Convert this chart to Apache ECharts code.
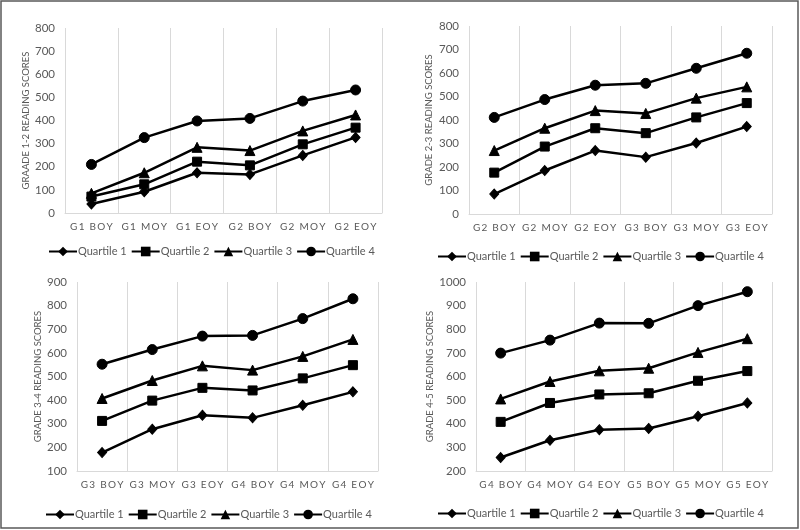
<!DOCTYPE html>
<html><head><meta charset="utf-8">
<script src="https://cdn.jsdelivr.net/npm/echarts@6/dist/echarts.min.js"></script>
<style>html,body{margin:0;padding:0;background:#fff}#c{width:800px;height:530px}</style>
</head><body><div id="c"></div>
<script>
const cats1 = ['G1 BOY','G1 MOY','G1 EOY','G2 BOY','G2 MOY','G2 EOY'];
const cats2 = ['G2 BOY','G2 MOY','G2 EOY','G3 BOY','G3 MOY','G3 EOY'];
const cats3 = ['G3 BOY','G3 MOY','G3 EOY','G4 BOY','G4 MOY','G4 EOY'];
const cats4 = ['G4 BOY','G4 MOY','G4 EOY','G5 BOY','G5 MOY','G5 EOY'];
const yNames = ['GRAADE 1-2 READING SCORES','GRADE 2-3 READING SCORES','GRADE 3-4 READING SCORES','GRADE 4-5 READING SCORES'];
const seriesNames = ['Quartile 1','Quartile 2','Quartile 3','Quartile 4'];
const yMin = [0, 0, 100, 200];
const yMax = [800, 800, 900, 1000];
const p1q1 = [39, 92, 174, 167, 249, 327];
const p1q2 = [71, 124, 222, 206, 297, 369];
const p1q3 = [85, 174, 284, 270, 355, 424];
const p1q4 = [210, 326, 398, 409, 484, 532];
const p2q1 = [85, 185, 270, 242, 302, 372];
const p2q2 = [176, 287, 365, 344, 411, 472];
const p2q3 = [270, 365, 440, 428, 493, 541];
const p2q4 = [411, 487, 548, 556, 620, 684];
const p3q1 = [178, 277, 336, 325, 378, 435];
const p3q2 = [312, 398, 452, 441, 492, 548];
const p3q3 = [407, 483, 545, 527, 585, 657];
const p3q4 = [552, 614, 671, 674, 745, 829];
const p4q1 = [257, 330, 375, 380, 432, 488];
const p4q2 = [408, 488, 524, 529, 582, 623];
const p4q3 = [505, 579, 624, 635, 702, 760];
const p4q4 = [699, 754, 826, 825, 900, 959];

const panels = [
  {cats: cats1, data: [p1q1,p1q2,p1q3,p1q4]},
  {cats: cats2, data: [p2q1,p2q2,p2q3,p2q4]},
  {cats: cats3, data: [p3q1,p3q2,p3q3,p3q4]},
  {cats: cats4, data: [p4q1,p4q2,p4q3,p4q4]}
];
const grids = [
  {left: 65, top: 28, width: 317, height: 185},
  {left: 469, top: 26, width: 303, height: 188},
  {left: 77, top: 282, width: 301, height: 189},
  {left: 476, top: 282, width: 296, height: 189}
];
const nameGaps = [34, 35, 33, 41];
const legendPos = [{left: 43, top: 241}, {left: 432, top: 246}, {left: 40, top: 504}, {left: 432, top: 503}];
const symbols = ['diamond','rect','triangle','circle'];
const symSizes = [[9,10], 9, 10, 10];
const FONT = 'Lato';
const TXT = '#595959';

const spaced = s => s.split('').join('\u2009');

const option = {
  animation: false,
  backgroundColor: '#fff',
  textStyle: {fontFamily: FONT},
  grid: grids.map(g => Object.assign({containLabel: false}, g)),
  xAxis: panels.map((p, i) => ({
    type: 'category', gridIndex: i, data: p.cats, boundaryGap: true,
    axisLine: {show: true, lineStyle: {color: '#d9d9d9', width: 1}},
    axisTick: {show: false},
    axisLabel: {color: TXT, fontSize: 10, fontFamily: FONT, margin: 9, interval: 0, formatter: spaced},
    splitLine: {show: true, showMinLine: true, showMaxLine: true, lineStyle: {color: '#d9d9d9', width: 1}}
  })),
  yAxis: panels.map((p, i) => ({
    type: 'value', gridIndex: i, min: yMin[i], max: yMax[i], interval: 100,
    name: yNames[i], nameLocation: 'middle', nameGap: nameGaps[i], nameRotate: 90,
    nameTextStyle: {color: TXT, fontSize: 9.5, fontFamily: FONT},
    axisLine: {show: false}, axisTick: {show: false},
    axisLabel: {color: TXT, fontSize: 11.5, fontFamily: FONT, margin: 10, formatter: v => String(v)},
    splitLine: {show: false}
  })),
  legend: panels.map((p, i) => ({
    data: seriesNames, left: legendPos[i].left, top: legendPos[i].top, width: 390,
    orient: 'horizontal',
    itemWidth: 28, itemHeight: 12, itemGap: 4,
    textStyle: {color: TXT, fontSize: 11, fontFamily: FONT, padding: [0, 0, 0, -4]},
    selectedMode: false
  })),
  series: [],
  graphic: [{type: 'rect', shape: {x: 1, y: 1, width: 797, height: 527}, style: {fill: 'none', stroke: '#595959', lineWidth: 1.5}, silent: true}]
};
panels.forEach((p, i) => {
  p.data.forEach((d, k) => {
    option.series.push({
      type: 'line', name: seriesNames[k], xAxisIndex: i, yAxisIndex: i, data: d,
      symbol: symbols[k], symbolSize: symSizes[k], showAllSymbol: true,
      lineStyle: {color: '#000', width: 2.5},
      itemStyle: {color: '#000', borderColor: '#000'},
      emphasis: {disabled: true}
    });
  });
});
const chart = echarts.init(document.getElementById('c'), null, {renderer: 'canvas'});
chart.setOption(option);
</script></body></html>
